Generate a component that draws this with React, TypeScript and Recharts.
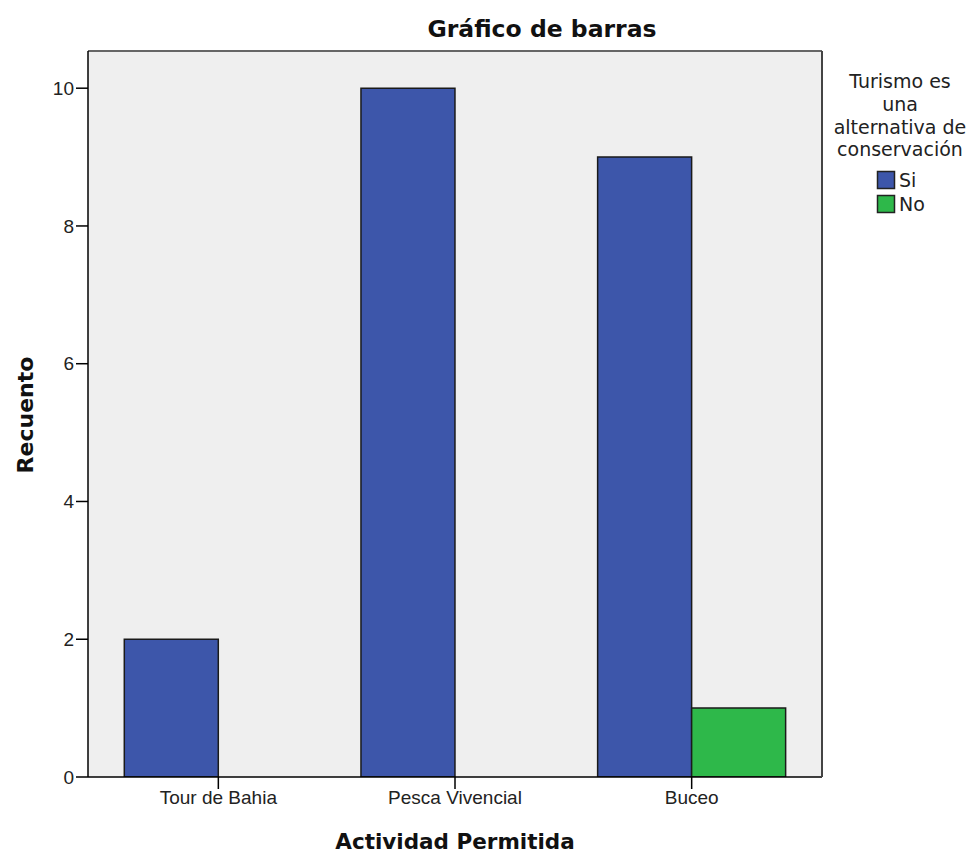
import React from 'react';
import { BarChart, Bar, XAxis, YAxis, CartesianGrid } from 'recharts';

const categories = ['Tour de Bahia', 'Pesca Vivencial', 'Buceo'];
const siValues: (number | null)[] = [2, 10, 9];
const noValues: (number | null)[] = [null, null, 1];
const yTicks = [0, 2, 4, 6, 8, 10];
const seriesNames = ['Si', 'No'];
const legendTitle = ['Turismo es', 'una', 'alternativa de', 'conservación'];
const chartTitle = 'Gráfico de barras';
const xTitle = 'Actividad Permitida';
const yTitle = 'Recuento';

const data = categories.map((c, i) => ({ cat: c, si: siValues[i], no: noValues[i] }));

const BLUE = '#3d56aa';
const GREEN = '#2eb84a';
const REG = '"Liberation Sans", Arial, sans-serif';
const DJ = '"DejaVu Sans", sans-serif';

export default function App() {
  return (
    <div style={{ position: 'absolute', left: 0, top: 0, width: 971, height: 855, background: '#fff' }}>
      <BarChart
        width={971}
        height={855}
        data={data}
        margin={{ top: 50, right: 148, bottom: 0, left: 0 }}
        barCategoryGap={24.3}
        barGap={0}
      >
        <CartesianGrid horizontal={false} vertical={false} fill="#efefef" />
        <XAxis
          dataKey="cat"
          height={78}
          tickSize={12}
          interval={0}
          padding={{ left: 12, right: 12 }}
          axisLine={{ stroke: '#000', strokeWidth: 1.5 }}
          tickLine={{ stroke: '#000', strokeWidth: 1.5 }}
          tick={{ fontSize: 19, fontFamily: REG, fill: '#222' }}
        />
        <XAxis
          xAxisId="top"
          dataKey="cat"
          orientation="top"
          height={1}
          tick={false}
          tickLine={false}
          axisLine={{ stroke: '#666', strokeWidth: 2 }}
        />
        <YAxis
          width={88}
          domain={[0, 10.54]}
          ticks={yTicks}
          interval={0}
          allowDataOverflow
          tickSize={12}
          axisLine={{ stroke: '#000', strokeWidth: 1.5 }}
          tickLine={{ stroke: '#000', strokeWidth: 1.5 }}
          tick={{ fontSize: 19, fontFamily: REG, fill: '#222' }}
        />
        <YAxis
          yAxisId="right"
          orientation="right"
          width={1}
          type="number"
          domain={[0, 1]}
          tick={false}
          tickLine={false}
          axisLine={{ stroke: '#444', strokeWidth: 2 }}
        />
        <Bar dataKey="si" name={seriesNames[0]} fill={BLUE} stroke="#1a1a1a" strokeWidth={1.5} isAnimationActive={false} />
        <Bar dataKey="no" name={seriesNames[1]} fill={GREEN} stroke="#1a1a1a" strokeWidth={1.5} isAnimationActive={false} />
        <Bar xAxisId="top" yAxisId="right" dataKey="frame" legendType="none" isAnimationActive={false} />

        <text x={542} y={37} textAnchor="middle" fontFamily={DJ} fontWeight="bold" fontSize={23.5} fill="#111">
          {chartTitle}
        </text>
        <text x={455} y={849} textAnchor="middle" fontFamily={DJ} fontWeight="bold" fontSize={21.5} fill="#111">
          {xTitle}
        </text>
        <text x={33} y={415} transform="rotate(-90 33 415)" textAnchor="middle" fontFamily={DJ} fontWeight="bold" fontSize={22} fill="#111">
          {yTitle}
        </text>
        {legendTitle.map((t, i) => (
          <text key={t} x={900} y={88 + i * 22.8} textAnchor="middle" fontFamily={DJ} fontSize={19} fill="#222">
            {t}
          </text>
        ))}
        <rect x={877.5} y={171.5} width={17} height={17} fill={BLUE} stroke="#222" strokeWidth={1.5} />
        <text x={899} y={187} fontFamily={DJ} fontSize={19} fill="#222">{seriesNames[0]}</text>
        <rect x={877.5} y={195.5} width={17} height={17} fill={GREEN} stroke="#222" strokeWidth={1.5} />
        <text x={899} y={211} fontFamily={DJ} fontSize={19} fill="#222">{seriesNames[1]}</text>
      </BarChart>
    </div>
  );
}
